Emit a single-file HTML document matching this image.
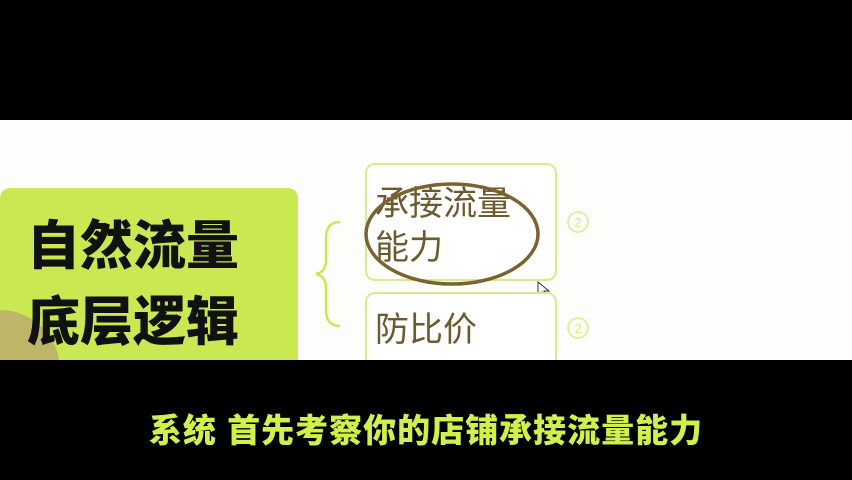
<!DOCTYPE html>
<html><head><meta charset="utf-8"><style>
body{margin:0;width:852px;height:480px;background:#000;overflow:hidden;position:relative;font-family:"Liberation Sans","Noto Sans CJK SC",sans-serif}
.abs{position:absolute}
</style></head><body>
<div class="abs" style="left:0;top:120px;width:852px;height:240px;background:#fdfefc;overflow:hidden">
  <div class="abs" style="left:0;top:68px;width:298px;height:190px;background:#c9e852;border-radius:10px"></div>
  <div class="abs" style="left:-60px;top:190px;width:120px;height:120px;border-radius:50%;background:#b8a070;opacity:.7"></div>
  <div class="abs" style="left:27px;top:89px;font-size:53px;font-weight:900;line-height:76px;color:#111">自然流量<br>底层逻辑</div>
  <svg class="abs" style="left:0;top:0" width="852" height="240">
    <path d="M340 102 Q326 102 326 118 L326 140 Q326 152 316 154 Q326 156 326 168 L326 190 Q326 206 340 206" fill="none" stroke="#c9e852" stroke-width="2.5"/>
    <circle cx="578" cy="102" r="10" fill="none" stroke="#d6ec8a" stroke-width="1.5"/>
    <text x="578" y="107" font-size="13" text-anchor="middle" fill="#d6ec8a">2</text>
    <circle cx="578" cy="208" r="10" fill="none" stroke="#d6ec8a" stroke-width="1.5"/>
    <text x="578" y="213" font-size="13" text-anchor="middle" fill="#d6ec8a">2</text>
  </svg>
  <div class="abs" style="left:365px;top:43px;width:188px;height:114px;border:2px solid #d6ec8a;border-radius:10px;background:#fff"></div>
  <div class="abs" style="left:375px;top:62px;font-size:34px;line-height:44px;color:#6b5a2e">承接流量<br>能力</div>
  <svg class="abs" style="left:0;top:0" width="852" height="240">
    <ellipse cx="452" cy="114" rx="86" ry="50" fill="none" stroke="#7a6330" stroke-width="3.5"/>
    <path d="M538 162 l0 14 l4 -4 l4 7 l2 -1 l-4 -7 l5 0 z" fill="#fff" stroke="#333" stroke-width="1"/>
  </svg>
  <div class="abs" style="left:365px;top:172px;width:188px;height:100px;border:2px solid #d6ec8a;border-radius:10px;background:#fff"></div>
  <div class="abs" style="left:375px;top:188px;font-size:34px;line-height:44px;color:#6b5a2e">防比价</div>
</div>
<div class="abs" style="left:0;top:404px;width:852px;text-align:center;font-size:33px;font-weight:900;color:#d2f04c;letter-spacing:1px">系统 首先考察你的店铺承接流量能力</div>
</body></html>
